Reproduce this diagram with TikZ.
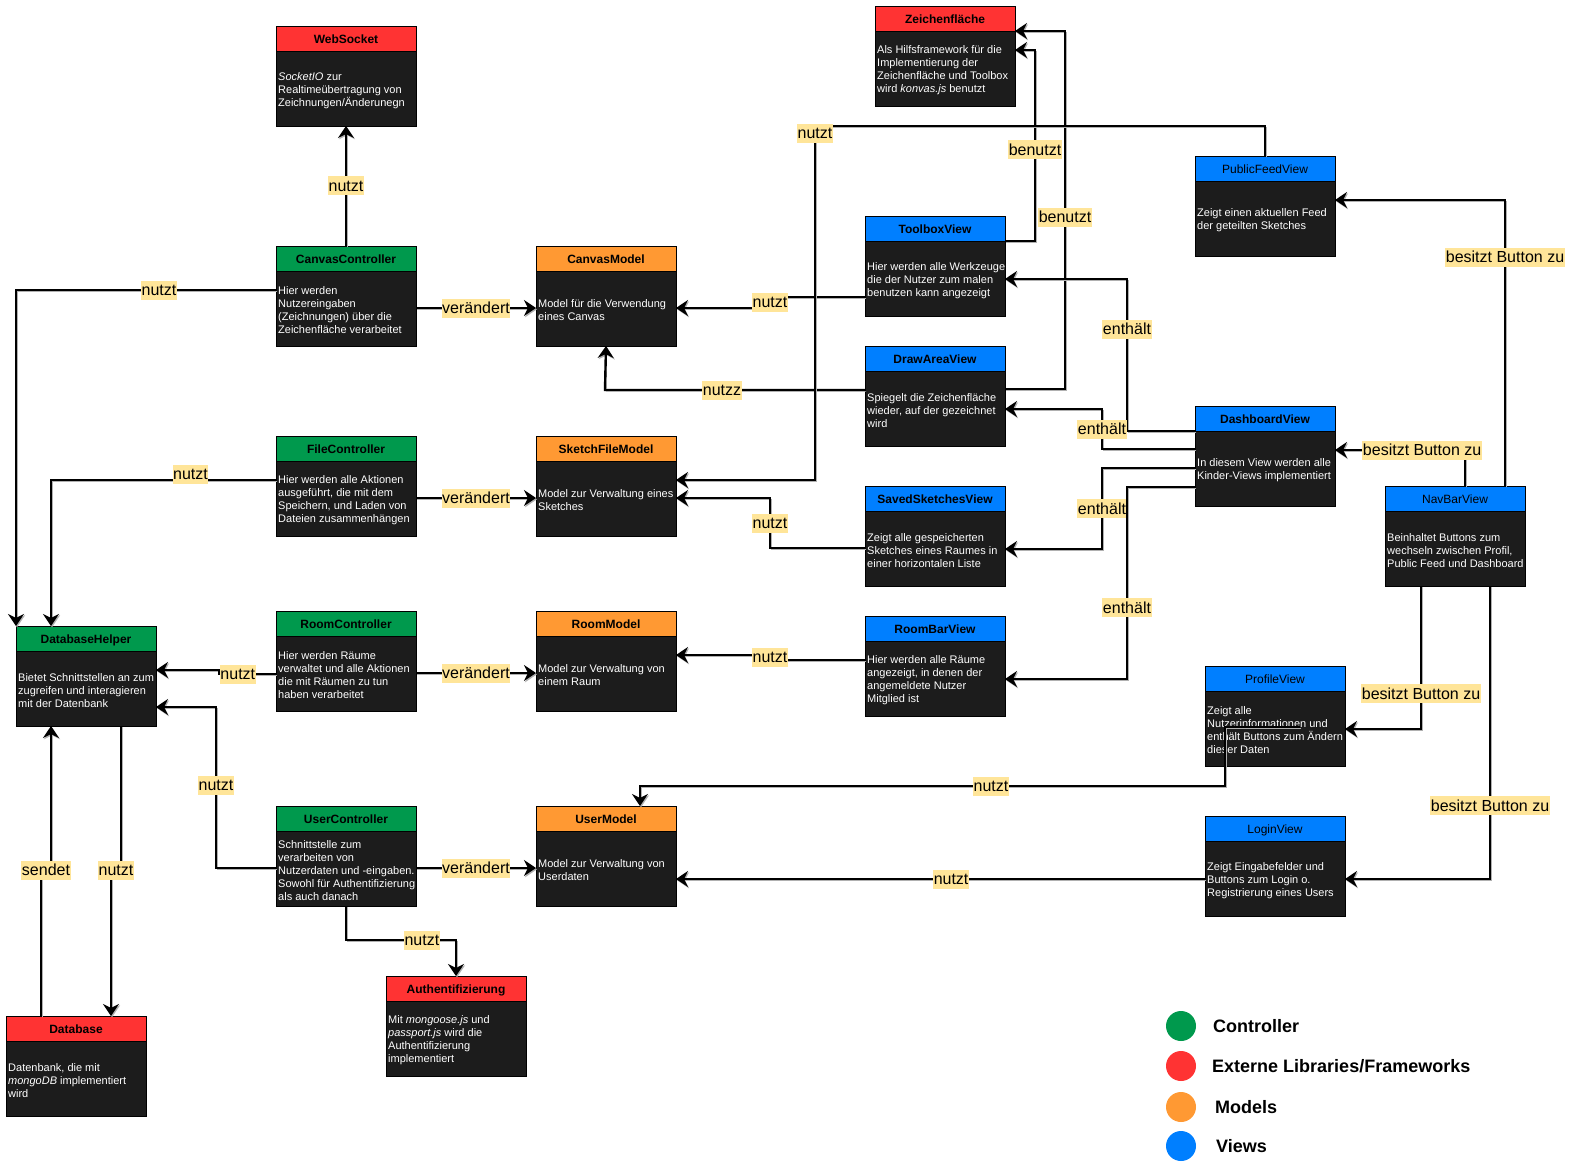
\documentclass[tikz,border=0pt]{standalone}
\usepackage{fontspec}
\setmainfont{Liberation Sans}
\usetikzlibrary{arrows.meta,calc}

\definecolor{ctrl}{HTML}{00994D}
\definecolor{libred}{HTML}{FF3333}
\definecolor{model}{HTML}{FF9933}
\definecolor{view}{HTML}{007FFF}
\definecolor{bodydark}{HTML}{1C1C1C}
\definecolor{labelbg}{HTML}{FFE599}
\definecolor{shade}{HTML}{B0B0B0}

\tikzset{
  boxbody/.style={draw=black, line width=0.8pt, fill=bodydark, minimum width=140pt,
    minimum height=100pt, inner sep=0pt, outer sep=0pt},
  boxhead/.style={draw=black, line width=0.8pt, minimum width=140pt, minimum height=25pt,
    inner sep=0pt, outer sep=0pt},
  boxtitle/.style={anchor=base, inner sep=0pt, text=black},
  boxtext/.style={align=left, inner sep=0pt, text=white, font=\fontsize{11}{13}\selectfont},
  conn/.style={line width=2.4pt, -{Stealth[length=12pt,width=16pt,inset=4pt]},
    preaction={draw=shade, transform canvas={shift={(1pt,-1.3pt)}}}},
  lbl/.style={fill=labelbg, inner xsep=0.5pt, inner ysep=0pt, minimum height=19pt,
    font=\fontsize{16}{19}\selectfont, text=black},
  legendtext/.style={font=\bfseries\fontsize{18}{21}\selectfont, anchor=base west, inner sep=0pt},
  legenddot/.style={circle, minimum size=30pt, inner sep=0pt},
}

% header title fonts: bold and regular
\newcommand{\hdb}{\bfseries\fontsize{12}{14}\selectfont}
\newcommand{\hdr}{\fontsize{12}{14}\selectfont}

% #1 name, #2 x, #3 y (top left), #4 header colour, #5 title font, #6 title, #7 description
\newcommand{\mvcbox}[7]{%
  \node[boxbody, anchor=north west] (#1) at (#2,#3) {};
  \node[boxhead, fill=#4, anchor=north west] (#1-head) at (#2,#3) {};
  \node[boxtitle, font=#5] (#1-title) at ({#2+70},{#3+17.3}) {#6};
  \node[boxtext, anchor=west] (#1-text) at ({#2+2},{#3+64.5}) {#7};
}

\begin{document}
\begin{tikzpicture}[x=1pt,y=-1pt]
\useasboundingbox (0,0) rectangle (1570,1166);
\fill[white] (0,0) rectangle (1570,1166);

% ---------- components ----------
\mvcbox{ws}{276}{26}{libred}{\hdb}{WebSocket}{\textit{SocketIO} zur\\Realtimeübertragung von\\Zeichnungen/Änderunegn}
\mvcbox{zf}{875}{6}{libred}{\hdb}{Zeichenfläche}{Als Hilfsframework für die\\Implementierung der\\Zeichenfläche und Toolbox\\wird \textit{konvas.js} benutzt}
\mvcbox{cc}{276}{246}{ctrl}{\hdb}{CanvasController}{Hier werden\\Nutzereingaben\\(Zeichnungen) über die\\Zeichenfläche verarbeitet}
\mvcbox{cm}{536}{246}{model}{\hdb}{CanvasModel}{Model für die Verwendung\\eines Canvas}
\mvcbox{tb}{865}{216}{view}{\hdb}{ToolboxView}{Hier werden alle Werkzeuge\\die der Nutzer zum malen\\benutzen kann angezeigt}
\mvcbox{pf}{1195}{156}{view}{\hdr}{PublicFeedView}{Zeigt einen aktuellen Feed\\der geteilten Sketches}
\mvcbox{da}{865}{346}{view}{\hdb}{DrawAreaView}{Spiegelt die Zeichenfläche\\wieder, auf der gezeichnet\\wird}
\mvcbox{dv}{1195}{406}{view}{\hdb}{DashboardView}{In diesem View werden alle\\Kinder-Views implementiert}
\mvcbox{fc}{276}{436}{ctrl}{\hdb}{FileController}{Hier werden alle Aktionen\\ausgeführt, die mit dem\\Speichern, und Laden von\\Dateien zusammenhängen}
\mvcbox{sfm}{536}{436}{model}{\hdb}{SketchFileModel}{Model zur Verwaltung eines\\Sketches}
\mvcbox{ss}{865}{486}{view}{\hdb}{SavedSketchesView}{Zeigt alle gespeicherten\\Sketches eines Raumes in\\einer horizontalen Liste}
\mvcbox{nb}{1385}{486}{view}{\hdr}{NavBarView}{Beinhaltet Buttons zum\\wechseln zwischen Profil,\\Public Feed und Dashboard}
\mvcbox{rc}{276}{611}{ctrl}{\hdb}{RoomController}{Hier werden Räume\\verwaltet und alle Aktionen\\die mit Räumen zu tun\\haben verarbeitet}
\mvcbox{rm}{536}{611}{model}{\hdb}{RoomModel}{Model zur Verwaltung von\\einem Raum}
\mvcbox{dbhelper}{16}{626}{ctrl}{\hdb}{DatabaseHelper}{Bietet Schnittstellen an zum\\zugreifen und interagieren\\mit der Datenbank}
\mvcbox{rb}{865}{616}{view}{\hdb}{RoomBarView}{Hier werden alle Räume\\angezeigt, in denen der\\angemeldete Nutzer\\Mitglied ist}
\mvcbox{pv}{1205}{666}{view}{\hdr}{ProfileView}{Zeigt alle\\Nutzerinformationen und\\enthält Buttons zum Ändern\\dieser Daten}
\mvcbox{uc}{276}{806}{ctrl}{\hdb}{UserController}{Schnittstelle zum\\verarbeiten von\\Nutzerdaten und -eingaben.\\Sowohl für Authentifizierung\\als auch danach}
\mvcbox{um}{536}{806}{model}{\hdb}{UserModel}{Model zur Verwaltung von\\Userdaten}
\mvcbox{lv}{1205}{816}{view}{\hdr}{LoginView}{Zeigt Eingabefelder und\\Buttons zum Login o.\\Registrierung eines Users}
\mvcbox{auth}{386}{976}{libred}{\hdb}{Authentifizierung}{Mit \textit{mongoose.js} und\\\textit{passport.js} wird die\\Authentifizierung\\implementiert}
\mvcbox{database}{6}{1016}{libred}{\hdb}{Database}{Datenbank, die mit\\\textit{mongoDB} implementiert\\wird}

% ---------- connectors ----------
\draw[conn] (cc.north) -- node[lbl]{nutzt} (ws.south);
\draw[conn] (cc.west |- 0,290) -- node[lbl,pos=0.45]{nutzt} (16,290) -- (dbhelper.north west);
\draw[conn] (cc.east |- 0,308) -- node[lbl]{verändert} (cm.west |- 0,308);
\draw[conn] (tb.west |- 0,297) -- (770,297) -- node[lbl]{nutzt} (770,308) -- (cm.east |- 0,308);
\draw[conn] (tb.east |- 0,241) -- (1035,241) -- node[lbl,pos=0.48]{benutzt} (1035,50) -- (zf.east |- 0,50);
\draw[conn] (da.east |- 0,389) -- (1065,389) -- node[lbl,pos=0.48]{benutzt} (1065,31) -- (zf.east |- 0,31);
\draw[conn] (da.west |- 0,390) -- node[lbl,pos=0.55]{nutzz} (605,390) -- (cm.south);
\draw[conn] (pf.north) -- (1265,126) -- (815,126) -- node[lbl,pos=0.02]{nutzt} (815,480) -- (sfm.east |- 0,480);
\draw[conn] (ss.west |- 0,548) -- (770,548) -- node[lbl]{nutzt} (770,498) -- (sfm.east |- 0,498);
\draw[conn] (fc.west |- 0,480) -- node[lbl,pos=0.38,yshift=6pt]{nutzt} (51,480) -- ([xshift=35pt]dbhelper.north west);
\draw[conn] (fc.east |- 0,498) -- node[lbl]{verändert} (sfm.west |- 0,498);
\draw[conn] (rc.west |- 0,674) -- node[lbl,pos=0.67]{nutzt} (219,674) -- (219,670) -- (dbhelper.east |- 0,670);
\draw[conn] (rc.east |- 0,673) -- node[lbl]{verändert} (rm.west |- 0,673);
\draw[conn] (rb.west |- 0,660) -- (770,660) -- node[lbl]{nutzt} (770,655) -- (rm.east |- 0,655);
\draw[conn] (uc.west |- 0,868) -- (216,868) -- node[lbl,pos=0.51]{nutzt} (216,707) -- (dbhelper.east |- 0,707);
\draw[conn] (uc.east |- 0,868) -- node[lbl]{verändert} (um.west |- 0,868);
\draw[conn] (uc.south) -- (346,940) -- node[lbl,pos=0.69]{nutzt} (456,940) -- (auth.north);
\draw[conn] ([xshift=105pt]dbhelper.south west) -- (121,870) -- node[lbl]{nutzt} (111,870) -- ([xshift=105pt]database.north west);
\draw[conn] ([xshift=35pt]database.north west) -- (41,870) -- node[lbl]{sendet} (51,870) -- ([xshift=35pt]dbhelper.south west);
\draw[conn] ([xshift=-20pt]nb.north east) -- node[lbl,pos=0.8]{besitzt Button zu} (1505,200) -- (pf.east |- 0,200);
\draw[conn] ([xshift=-60pt]nb.north east) -- (1465,450) -- node[lbl,pos=0.33]{besitzt Button zu} (dv.east |- 0,450);
\draw[conn] (dv.west |- 0,431) -- (1127,431) -- node[lbl,pos=0.67]{enthält} (1127,279) -- (tb.east |- 0,279);
\draw[conn] (dv.west |- 0,449) -- (1102,449) -- node[lbl]{enthält} (1102,409) -- (da.east |- 0,409);
\draw[conn] (dv.west |- 0,468) -- (1102,468) -- node[lbl]{enthält} (1102,549) -- (ss.east |- 0,549);
\draw[conn] (dv.west |- 0,487) -- (1127,487) -- node[lbl,pos=0.63]{enthält} (1127,679) -- (rb.east |- 0,679);
\draw[conn] ([xshift=36pt]nb.south west) -- node[lbl,pos=0.755]{besitzt Button zu} (1421,729) -- (pv.east |- 0,729);
\draw[conn] ([xshift=105pt]nb.south west) -- node[lbl,pos=0.75]{besitzt Button zu} (1490,879) -- (lv.east |- 0,879);
\coordinate (pvin) at (1300,727);
\draw[conn] (pvin) -- (1225,727) -- (1225,786) -- node[lbl,pos=0.4]{nutzt} (640,786) -- ([xshift=104pt]um.north west);
\draw[conn] (lv.west |- 0,879) -- node[lbl,pos=0.48]{nutzt} (um.east |- 0,879);

% ---------- legend ----------
\node[legenddot, fill=ctrl] (lgc) at (1181,1026) {};
\node[legendtext] (lgct) at (1213,1032.5) {Controller};
\node[legenddot, fill=libred] (lgl) at (1181,1066) {};
\node[legendtext] (lglt) at (1212,1072.5) {Externe Libraries/Frameworks};
\node[legenddot, fill=model] (lgm) at (1181,1107) {};
\node[legendtext] (lgmt) at (1215,1113.5) {Models};
\node[legenddot, fill=view] (lgv) at (1181,1146) {};
\node[legendtext] (lgvt) at (1216,1152.5) {Views};
\end{tikzpicture}
\end{document}
